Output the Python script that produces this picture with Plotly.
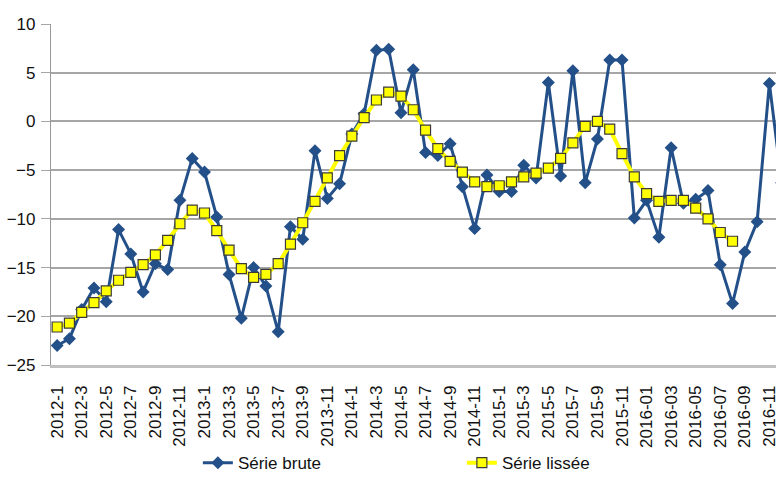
import plotly.graph_objects as go

# Monthly categories 2012-1 .. 2016-12
months = [f"{y}-{m}" for y in (2012, 2013, 2014, 2015) for m in range(1, 13)]
months += [f"2016-{m:02d}" for m in range(1, 13)]

serie_brute = [
    -23.0, -22.3, -19.3, -17.1, -18.5, -11.1, -13.6, -17.5, -14.6, -15.2, -8.1, -3.8,
    -5.2, -9.8, -15.7, -20.2, -15.0, -16.9, -21.6, -10.8, -12.1, -3.0, -7.9, -6.4,
    -1.3, 0.8, 7.3, 7.4, 0.9, 5.3, -3.2, -3.5, -2.3, -6.7, -11.0, -5.5,
    -7.2, -7.2, -4.5, -5.8, 4.0, -5.6, 5.2, -6.3, -1.8, 6.3, 6.3, -9.9,
    -8.1, -11.9, -2.7, -8.4, -8.0, -7.1, -14.7, -18.7, -13.4, -10.3, 3.9, -6.3,
]

serie_lissee = [
    -21.1, -20.7, -19.6, -18.6, -17.4, -16.3, -15.5, -14.7, -13.7, -12.2, -10.5, -9.1,
    -9.4, -11.2, -13.2, -15.1, -16.0, -15.7, -14.6, -12.6, -10.4, -8.2, -5.8, -3.5,
    -1.5, 0.4, 2.2, 3.0, 2.6, 1.2, -0.9, -2.8, -4.1, -5.2, -6.2, -6.7,
    -6.6, -6.2, -5.7, -5.3, -4.8, -3.8, -2.2, -0.5, 0.0, -0.8, -3.3, -5.7,
    -7.4, -8.2, -8.1, -8.1, -8.9, -10.0, -11.4, -12.3, None, None, None, None,
]

# every other month gets a label
tick_labels = months[::2]

y_ticks = [-25, -20, -15, -10, -5, 0, 5, 10]

FONT = "Liberation Sans, Arial, sans-serif"

fig = go.Figure()
fig.add_trace(go.Scatter(
    x=months, y=serie_brute, name="Série brute", mode="lines+markers",
    line=dict(color="#24508a", width=3),
    marker=dict(symbol="diamond", size=10, color="#24508a"),
))
fig.add_trace(go.Scatter(
    x=months, y=serie_lissee, name="Série lissée", mode="lines+markers",
    line=dict(color="#ffff00", width=4),
    marker=dict(symbol="square", size=10, color="#ffff00",
                line=dict(color="#3a3a3a", width=1.2)),
    connectgaps=False,
))

fig.update_layout(
    width=776, height=485,
    margin=dict(l=51, r=0, t=24, b=120, autoexpand=False),
    paper_bgcolor="white", plot_bgcolor="white",
    font=dict(family=FONT, color="#111111"),
    showlegend=True,
    legend=dict(
        orientation="h", xref="container", yref="container",
        x=0.255, y=0.045, xanchor="left", yanchor="middle",
        font=dict(size=17, family=FONT),
        entrywidth=219, entrywidthmode="pixels",
        itemwidth=30, bgcolor="rgba(0,0,0,0)",
    ),
    xaxis=dict(
        type="category", categoryorder="array", categoryarray=months,
        range=[-0.5, -0.5 + 725 / 12.28], automargin=False,
        tickmode="array", tickvals=tick_labels, ticktext=tick_labels,
        tickangle=-90, tickfont=dict(size=17, family=FONT),
        showgrid=False, showline=True, linecolor="#c0c0c0", linewidth=2.5,
        ticks="", ticklabelstandoff=11, zeroline=False,
    ),
    yaxis=dict(
        range=[-25, 10], tickmode="array", tickvals=y_ticks, automargin=False,
        tickfont=dict(size=17, family=FONT),
        showgrid=True, gridcolor="#a6a6a6", gridwidth=1.5,
        showline=True, linecolor="#999999", linewidth=1.2,
        ticks="outside", ticklen=9, tickcolor="#a6a6a6", tickwidth=1.2,
        ticklabelstandoff=2, zeroline=False,
    ),
)

fig.write_html("out.html")
